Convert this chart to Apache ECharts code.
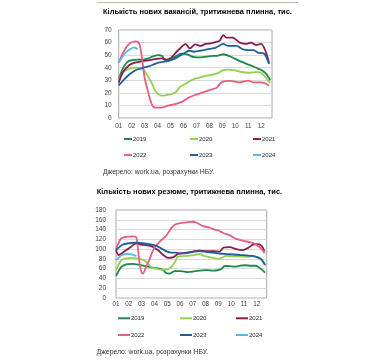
<!DOCTYPE html>
<html>
<head>
<meta charset="utf-8">
<script src="https://cdn.jsdelivr.net/npm/echarts@6/dist/echarts.min.js"></script>
<style>
html,body{margin:0;padding:0;background:#fff;}
#c{width:382px;height:361px;}
</style>
</head>
<body>
<div id="c"></div>
<script>
// ---------- DATA ----------
const seriesNames = ['2019', '2020', '2021', '2022', '2023', '2024'];
const monthLabels = ['01','02','03','04','05','06','07','08','09','10','11','12'];

const titleTop = 'Кількість нових вакансій, тритижнева плинна, тис.';
const titleBottom = 'Кількість нових резюме, тритижнева плинна, тис.';
const sourceText = 'Джерело: work.ua, розрахунки НБУ.';

// top chart: vacancies, thousands; [month offset from start of Jan, value]
const vac2019 = [[0,30.5],[0.3,39],[0.65,44.5],[1.0,46],[1.25,46.3],[1.9,46.5],[2.3,47.5],[2.6,48.8],[3.05,50],[3.35,49.3],[3.55,46],[3.7,45],[3.95,46.5],[4.35,48.8],[4.85,51.2],[5.35,50.5],[5.6,49],[5.85,48.5],[6.3,48.3],[7.1,49.3],[7.6,49.5],[8.07,50.7],[8.6,49],[9.0,47],[9.4,45],[10.0,42.5],[10.4,41],[10.7,39.5],[11.0,38.2],[11.35,35.5],[11.5,33.5],[11.7,30]];
const vac2020 = [[0,30],[0.4,37],[0.9,39.5],[1.4,40],[1.7,39.5],[1.95,38],[2.2,34],[2.5,29],[2.8,22],[3.05,19],[3.3,17.8],[3.6,18],[3.9,18.5],[4.2,19.5],[4.45,21],[4.7,24.5],[4.95,26],[5.2,27.5],[5.5,29.5],[5.8,31],[6.2,32],[6.7,33.5],[7.1,34.3],[7.6,35.5],[8.07,38],[8.5,38.5],[8.9,38],[9.4,36.8],[10.1,36],[10.6,36.5],[11.0,36],[11.35,32],[11.7,28]];
const vac2021 = [[0,28],[0.3,36],[0.8,42],[1.25,44],[2.0,45.5],[2.6,46.5],[3.3,47.5],[3.7,46.5],[4.05,48],[4.45,52.5],[4.85,56.5],[5.15,59],[5.4,56],[5.5,55.4],[5.9,58.5],[6.3,57.3],[6.7,58.9],[7.1,59.4],[7.6,60.7],[7.8,61.5],[8.07,66],[8.3,64],[8.8,64],[9.35,60],[9.9,59],[10.2,60],[10.6,58],[11.0,58.9],[11.35,52.7],[11.6,44]];
const vac2022 = [[0,44],[0.42,53.5],[0.8,59],[1.26,61],[1.5,60.5],[1.65,57],[1.77,50],[2.0,32],[2.3,19.6],[2.55,11],[2.8,8.2],[3.3,8.2],[3.8,9.8],[4.35,11],[4.9,13],[5.4,16.2],[5.9,18.3],[6.4,20],[7.06,22.3],[7.56,24.1],[7.95,28.5],[8.6,29.5],[9.36,28.4],[10.0,29.7],[10.4,28.4],[10.9,28.4],[11.3,27.6],[11.6,25.7]];
const vac2023 = [[0,26],[0.36,30],[0.65,33],[0.87,35],[1.3,38],[1.9,40],[2.3,41],[2.7,42.6],[3.05,44],[3.6,45],[3.9,45.6],[4.3,47],[4.8,50],[5.2,52.5],[5.4,53.5],[5.8,52.7],[6.3,53.5],[7.0,55],[7.5,56],[8.07,58.9],[8.45,57.3],[9.1,57.3],[9.6,54.6],[10.0,54],[10.4,54],[10.8,51.8],[11.2,51.4],[11.4,48.3],[11.6,43]];
const vac2024 = [[0,44],[0.49,51.5],[0.87,54.6],[1.2,56.2],[1.47,54.6]];

// bottom chart: resumes, thousands
const res2019 = [[0,45],[0.4,63],[0.8,69],[1.3,70],[1.8,68],[2.35,65],[2.9,62],[3.4,60],[3.7,57],[3.9,51],[4.2,50],[4.6,55],[5.1,55],[5.6,53],[6.0,54],[6.5,56],[7.1,57],[7.6,56],[8.0,57],[8.25,60],[8.5,65.5],[8.9,65],[9.3,64],[9.7,66],[10.1,67],[10.5,66],[10.9,66],[11.1,64],[11.4,58],[11.65,52]];
const res2020 = [[0,57],[0.4,77],[0.8,81],[1.3,82],[1.8,80],[2.2,77],[2.5,70],[2.75,63],[3.1,60],[3.5,58],[3.9,58],[4.3,63],[4.6,73],[4.85,85],[5.4,86],[5.9,87],[6.3,89],[6.55,90],[6.9,86],[7.45,83],[8.0,80],[8.25,82],[8.6,86],[9.2,85],[9.7,85],[10.2,84],[10.6,85],[11.0,83],[11.3,80],[11.5,73],[11.7,67]];
const res2021 = [[0,98],[0.2,88],[0.8,98],[1.18,105],[1.57,112],[1.96,109],[2.75,106],[3.27,98],[3.6,90],[3.9,84],[4.05,82],[4.45,83],[4.85,90],[5.5,93],[6.0,95],[6.5,97],[7.0,96],[7.6,96],[8.1,95],[8.4,103],[8.9,104],[9.4,100],[9.9,98],[10.3,102],[10.7,109],[11.1,110],[11.4,106],[11.6,95]];
const res2022 = [[0,100],[0.4,122],[0.8,125],[1.3,126],[1.57,125],[1.7,105],[1.85,70],[2.0,52],[2.1,50],[2.3,60],[2.6,78],[3.0,103],[3.4,115],[3.8,124],[4.05,132],[4.3,142],[4.6,150],[5.0,153],[5.6,155],[6.0,156],[6.3,154],[6.8,147],[7.3,144],[7.7,140],[8.0,138],[8.4,133],[8.9,128],[9.4,121],[9.95,117],[10.5,114],[10.86,111],[11.1,106],[11.4,100],[11.6,92]];
const res2023 = [[0,98],[0.5,109],[1.0,112],[1.57,113],[2.1,112],[2.6,110],[3.1,107],[3.5,102],[3.9,96],[4.3,93],[4.7,93],[5.1,91],[5.5,92],[6.0,94],[6.5,96],[7.1,94],[7.6,93],[8.1,91],[8.6,90],[9.2,89],[9.7,88],[10.2,87],[10.7,86],[11.1,83],[11.4,78],[11.65,68]];
const res2024 = [[0,78],[0.5,88],[0.9,90],[1.2,89],[1.45,87],[1.6,86]];

const topTicks = [0, 70, 10];     // min, max, step
const bottomTicks = [0, 180, 20];

// ---------- STYLE ----------
const colors = ['#1a8a4a', '#92d050', '#8c1d4e', '#e5607e', '#1f5f9c', '#5ab6e6'];
const FONT = 'Liberation Sans, Arial, sans-serif';

const chart = echarts.init(document.getElementById('c'), null, {renderer: 'canvas'});

function fmtX(v) {
  if (Math.abs(v - Math.round(v)) > 1e-6) return '';
  const i = Math.round(v);
  return monthLabels[i] || '';
}

const grids = [
  {left: 118.7, top: 30, width: 153.3, height: 88, show: true, borderColor: '#a6a6a6', borderWidth: 1, backgroundColor: 'transparent'},
  {left: 116, top: 210, width: 150.7, height: 88, show: true, borderColor: '#a6a6a6', borderWidth: 1, backgroundColor: 'transparent'}
];

const xAxes = [
  {gridIndex: 0, type: 'value', min: 0, max: 11.83, interval: 1,
   axisLine: {show: false}, axisTick: {show: false}, splitLine: {show: false},
   axisLabel: {formatter: fmtX, fontSize: 6.3, color: '#404040', fontFamily: FONT, margin: 5, showMaxLabel: false}},
  {gridIndex: 1, type: 'value', min: 0, max: 11.78, interval: 1,
   axisLine: {show: false}, axisTick: {show: false}, splitLine: {show: false},
   axisLabel: {formatter: fmtX, fontSize: 6.3, color: '#404040', fontFamily: FONT, margin: 3.5, showMaxLabel: false}}
];

const yAxes = [
  {gridIndex: 0, type: 'value', min: topTicks[0], max: topTicks[1], interval: topTicks[2],
   axisLine: {show: false}, axisTick: {show: false},
   splitLine: {lineStyle: {color: '#d9d9d9', width: 1}},
   axisLabel: {fontSize: 6.5, color: '#404040', fontFamily: FONT, margin: 7}},
  {gridIndex: 1, type: 'value', min: bottomTicks[0], max: bottomTicks[1], interval: bottomTicks[2],
   axisLine: {show: false}, axisTick: {show: false},
   splitLine: {lineStyle: {color: '#d9d9d9', width: 1}},
   axisLabel: {fontSize: 6.5, color: '#404040', fontFamily: FONT, margin: 10}}
];

const topData = [vac2019, vac2020, vac2021, vac2022, vac2023, vac2024];
const botData = [res2019, res2020, res2021, res2022, res2023, res2024];

const series = [];
[topData, botData].forEach((set, gi) => {
  set.forEach((d, i) => {
    series.push({
      name: seriesNames[i], type: 'line', xAxisIndex: gi, yAxisIndex: gi,
      data: d, showSymbol: false, smooth: 0.25, silent: true,
      lineStyle: {color: colors[i], width: 1.8}, itemStyle: {color: colors[i]},
      z: 2 + i
    });
  });
});

// legends: 3 columns x 2 rows for each chart
const legendCols = [[124, 190, 253], [118, 180, 236]];
const legendRows = [[139, 155], [318.3, 335]];
const legends = [];
[0, 1].forEach(ci => {
  seriesNames.forEach((n, i) => {
    legends.push({
      left: legendCols[ci][i % 3], top: legendRows[ci][Math.floor(i / 3)] - 4,
      data: [n], icon: 'rect', itemWidth: ci === 0 ? 8 : 12, itemHeight: 2,
      padding: 0, selectedMode: false,
      textStyle: {fontSize: 6, color: '#262626', fontFamily: FONT, lineHeight: 8, padding: [0, 0, 0, -4]}
    });
  });
});

const graphic = [
  {type: 'line', shape: {x1: 97, y1: 2.5, x2: 298, y2: 2.5}, style: {stroke: '#b8c2b0', lineWidth: 1}},
  {type: 'text', x: 103, y: 12.3, style: {text: titleTop, font: 'bold 7.5px ' + FONT, fill: '#000', verticalAlign: 'middle'}},
  {type: 'text', x: 103, y: 171.7, style: {text: sourceText, font: '6.8px ' + FONT, fill: '#333', verticalAlign: 'middle'}},
  {type: 'text', x: 96.7, y: 192.3, style: {text: titleBottom, font: 'bold 7.5px ' + FONT, fill: '#000', verticalAlign: 'middle'}},
  {type: 'text', x: 96.7, y: 351.7, style: {text: sourceText, font: '6.8px ' + FONT, fill: '#333', verticalAlign: 'middle'}}
];

chart.setOption({
  animation: false,
  backgroundColor: '#fff',
  grid: grids,
  xAxis: xAxes,
  yAxis: yAxes,
  legend: legends,
  series: series,
  graphic: graphic
});
</script>
</body>
</html>
